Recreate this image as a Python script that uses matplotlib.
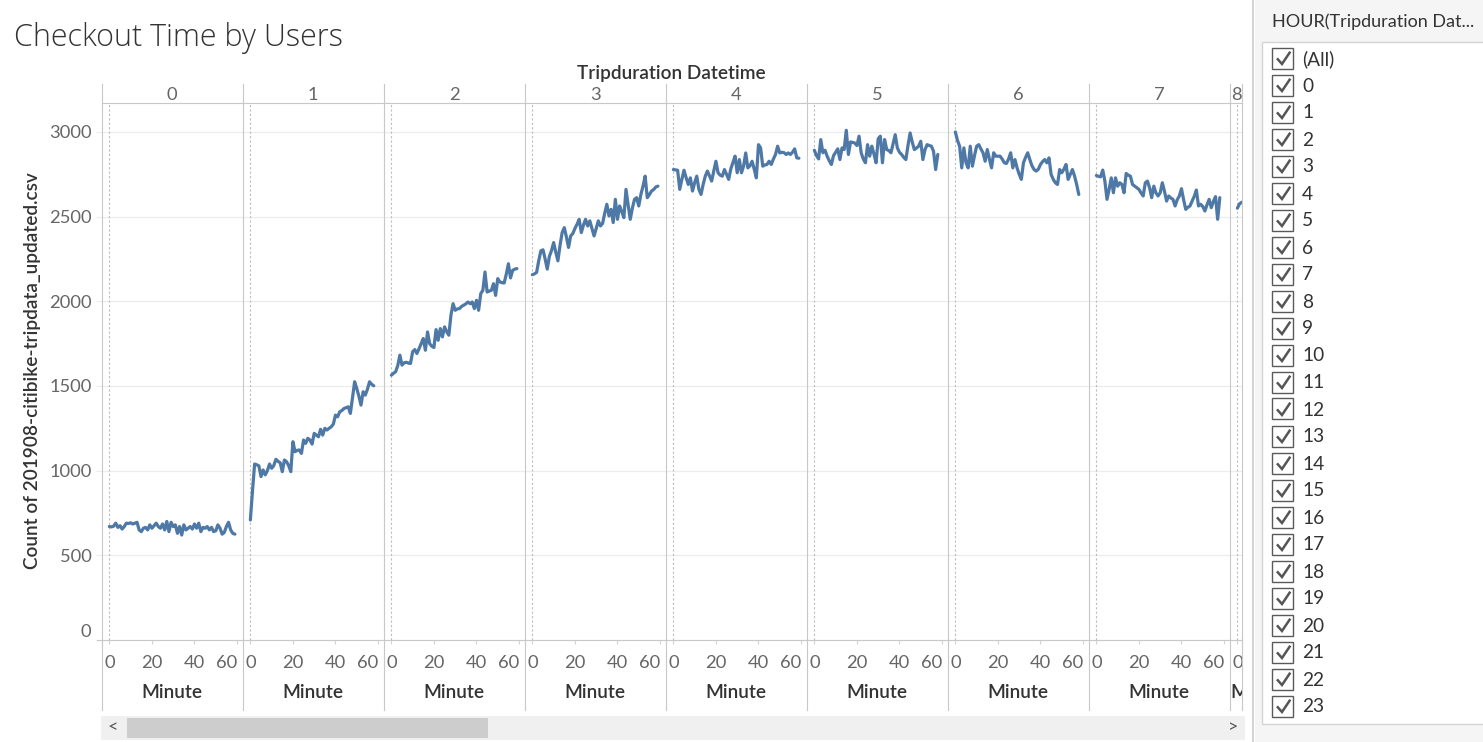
import numpy as np
import matplotlib
matplotlib.use("Agg")
from matplotlib import pyplot as plt
from matplotlib.patches import Rectangle
from matplotlib.lines import Line2D

plt.rcParams["font.family"] = ["Lato", "DejaVu Sans"]

# checkout counts per minute, one list per hour
hour_0 = [670, 668, 672, 690, 665, 675, 655, 670, 690, 688,
          692, 685, 690, 695, 650, 640, 660, 665, 650, 680,
          660, 675, 690, 670, 660, 685, 650, 700, 640, 695,
          670, 680, 630, 670, 620, 680, 650, 660, 670, 655,
          685, 660, 690, 640, 665, 660, 670, 650, 665, 640,
          645, 680, 660, 625, 635, 670, 695, 650, 630, 625]
hour_1 = [709, 880, 1039, 1035, 1028, 965, 1004, 975, 1000, 1039,
          1014, 1030, 1067, 1055, 1047, 994, 1063, 1053, 1030, 994,
          1171, 1112, 1120, 1122, 1102, 1181, 1161, 1191, 1181, 1157,
          1220, 1210, 1200, 1244, 1210, 1250, 1240, 1250, 1259, 1275,
          1328, 1318, 1348, 1355, 1367, 1372, 1377, 1338, 1430, 1525,
          1485, 1440, 1387, 1466, 1446, 1480, 1525, 1510, 1501]
hour_2 = [1564, 1575, 1584, 1620, 1682, 1623, 1637, 1640, 1635, 1633,
          1702, 1715, 1692, 1720, 1750, 1780, 1711, 1819, 1750, 1735,
          1727, 1833, 1770, 1839, 1790, 1849, 1820, 1800, 1918, 1986,
          1947, 1955, 1957, 1970, 1977, 1985, 1996, 1986, 1996, 1957,
          2006, 1947, 2045, 2065, 2173, 2055, 2060, 2065, 2104, 2035,
          2134, 2114, 2110, 2108, 2160, 2222, 2138, 2183, 2190, 2193]
hour_3 = [2157, 2162, 2171, 2240, 2298, 2304, 2250, 2190, 2265, 2300,
          2347, 2290, 2239, 2330, 2406, 2435, 2380, 2318, 2386, 2400,
          2430, 2455, 2484, 2406, 2450, 2484, 2445, 2475, 2430, 2386,
          2430, 2475, 2445, 2460, 2520, 2573, 2504, 2543, 2465, 2602,
          2484, 2563, 2530, 2494, 2661, 2570, 2484, 2550, 2602, 2612,
          2563, 2631, 2680, 2739, 2612, 2630, 2651, 2660, 2675, 2680]
hour_4 = [2778, 2776, 2774, 2661, 2720, 2774, 2730, 2690, 2729, 2651,
          2700, 2739, 2661, 2631, 2690, 2739, 2769, 2740, 2710, 2770,
          2827, 2759, 2745, 2739, 2778, 2750, 2720, 2782, 2820, 2857,
          2759, 2837, 2759, 2798, 2876, 2788, 2800, 2827, 2780, 2729,
          2925, 2906, 2798, 2805, 2808, 2827, 2808, 2840, 2867, 2916,
          2876, 2880, 2878, 2867, 2876, 2867, 2880, 2900, 2847, 2845]
hour_5 = [2892, 2860, 2841, 2955, 2877, 2892, 2857, 2830, 2808, 2860,
          2880, 2900, 2837, 2906, 2896, 3010, 2867, 2941, 2938, 2935,
          2920, 2975, 2877, 2840, 2818, 2925, 2857, 2916, 2870, 2818,
          2960, 2975, 2818, 2955, 2896, 2890, 2877, 2930, 2984, 2906,
          2880, 2867, 2850, 2837, 2920, 2994, 2940, 2896, 2905, 2916,
          2945, 2837, 2896, 2925, 2920, 2916, 2886, 2778, 2867]
hour_6 = [3000, 2950, 2916, 2788, 2906, 2818, 2788, 2916, 2798, 2860,
          2916, 2925, 2900, 2877, 2827, 2896, 2840, 2788, 2877, 2857,
          2857, 2857, 2840, 2818, 2814, 2840, 2877, 2788, 2837, 2788,
          2750, 2720, 2818, 2850, 2877, 2837, 2800, 2778, 2769, 2780,
          2808, 2825, 2837, 2818, 2847, 2749, 2720, 2700, 2690, 2778,
          2759, 2780, 2808, 2720, 2749, 2778, 2740, 2690, 2631]
hour_7 = [2743, 2738, 2735, 2775, 2710, 2602, 2661, 2729, 2641, 2729,
          2680, 2700, 2690, 2641, 2755, 2745, 2739, 2690, 2680, 2671,
          2661, 2640, 2622, 2700, 2710, 2671, 2612, 2680, 2640, 2622,
          2641, 2700, 2650, 2592, 2622, 2610, 2602, 2563, 2600, 2622,
          2665, 2600, 2543, 2555, 2563, 2592, 2620, 2657, 2563, 2573,
          2560, 2533, 2570, 2602, 2553, 2590, 2618, 2484, 2612]
hour_8 = [2550, 2575, 2585]

hour_labels = ["0", "1", "2", "3", "4", "5", "6", "7", "8"]
filter_items = ["(All)"] + [str(h) for h in range(24)]
minute_ticks = [0, 20, 40, 60]
count_ticks = [0, 500, 1000, 1500, 2000, 2500, 3000]

W, H = 1483, 742
LINE = "#4e79a7"
SEP = "#c8c8c8"
GRID = "#ececec"
TICK_TXT = "#666666"
DARK = "#333333"
FS = 13.2


def fx(px):
    return px / W


def fy(py):
    return 1 - py / H


def fig_line(fig, xs, ys, **kw):
    fig.add_artist(Line2D([fx(x) for x in xs], [fy(y) for y in ys], transform=fig.transFigure, **kw))


def fig_rect(fig, x0, y0, x1, y1, **kw):
    r = Rectangle((fx(x0), fy(y1)), (x1 - x0) / W, (y1 - y0) / H, transform=fig.transFigure, **kw)
    fig.add_artist(r)
    return r


fig = plt.figure(figsize=(W / 100, H / 100), dpi=100)

left0, pw, top, bottom = 101.7, 141.0, 103, 640
px_per_min = 2.128
series = [hour_0, hour_1, hour_2, hour_3, hour_4, hour_5, hour_6, hour_7, hour_8]

for i, vals in enumerate(series):
    x0 = left0 + i * pw
    width = pw if i < 8 else 12.0
    ax = fig.add_axes([fx(x0), fy(bottom), width / W, (bottom - top) / H])
    ax.plot(np.arange(len(vals)), vals, color=LINE, lw=2.3,
            solid_joinstyle="round", solid_capstyle="round")
    ax.set_xlim(-3.6, -3.6 + width / px_per_min)
    ax.set_ylim(0, 3171)
    ax.axvline(0, color="#bdbdbd", lw=0.8, ls=(0, (2, 2)), zorder=1)
    ax.set_yticks(count_ticks)
    ax.set_xticks(minute_ticks if i < 8 else [0])
    ax.grid(axis="y", color=GRID, lw=0.9)
    ax.set_axisbelow(True)
    for s in ax.spines.values():
        s.set_visible(False)
    ax.tick_params(axis="x", length=3, width=0.8, color="#d4d4d4", labelsize=FS,
                   labelcolor=TICK_TXT, pad=8)
    if i == 0:
        ax.tick_params(axis="y", length=4, width=0.8, color=GRID, labelsize=FS,
                       labelcolor=TICK_TXT, pad=3.4)
        ax.get_yticklabels()[0].set_va("bottom")
    else:
        ax.tick_params(axis="y", left=False, labelleft=False)
    if i < 8:
        ax.get_xticklabels()[3].set_ha("right")
        fig.text(fx(x0 + pw / 2), fy(692), "Minute", ha="center", va="center",
                 fontsize=FS + 0.5, fontweight="semibold", color=DARK)
        fig.text(fx(x0 + pw / 2), fy(95), hour_labels[i], ha="center", va="center",
                 fontsize=FS, color=TICK_TXT)
    else:
        fig.text(fx(1231), fy(95), hour_labels[i], ha="left", va="center",
                 fontsize=FS, color=TICK_TXT)
        t = fig.text(fx(1230), fy(692), "Minute", ha="left", va="center",
                     fontsize=FS + 0.5, fontweight="semibold", color=DARK)
        clip = Rectangle((fx(x0), 0), width / W, 1, transform=fig.transFigure)
        t.set_clip_path(clip)

# panel separators, header rule and x axis rule
for xs in [left0 + i * pw for i in range(9)] + [1241.7]:
    fig_line(fig, [xs, xs], [84, 710], color=SEP, lw=0.8)
fig_line(fig, [left0, 1241.7], [top, top], color=SEP, lw=0.8)
fig_line(fig, [97, 1241.7], [bottom, bottom], color=SEP, lw=0.8)

# titles
fig.text(fx(14), fy(46), "Checkout Time by Users", ha="left", va="baseline",
         fontsize=22, fontweight="light", color="#333333",
         family=["Open Sans", "Lato", "DejaVu Sans"])
fig.text(fx(671), fy(73), "Tripduration Datetime", ha="center", va="center",
         fontsize=FS + 0.5, fontweight="semibold", color=DARK)
fig.text(fx(33), fy(371), "Count of 201908-citibike-tripdata_updated.csv", ha="center", va="center",
         rotation=90, fontsize=FS + 0.5, fontweight="semibold", color=DARK)

# horizontal scrollbar
fig_rect(fig, 101, 716, 1245, 740, facecolor="#f0f0f0", edgecolor="none")
fig_rect(fig, 127, 718, 488, 738, facecolor="#cdcdcd", edgecolor="none")
fig.text(fx(113), fy(727), "<", ha="center", va="center", fontsize=13, color="#555555")
fig.text(fx(1233), fy(727), ">", ha="center", va="center", fontsize=13, color="#555555")

# filter card on the right
fig_rect(fig, 1255, 0, 1483, 742, facecolor="#f5f5f5", edgecolor="none")
fig_line(fig, [1253, 1253], [0, 742], color="#d4d4d4", lw=1.5)
fig_rect(fig, 1262, 42, 1490, 724, facecolor="white", edgecolor="#d4d4d4", lw=1)
fig.text(fx(1272), fy(22), "HOUR(Tripduration Dat...", ha="left", va="center",
         fontsize=13, color=DARK)

for k, name in enumerate(filter_items):
    cy = 58 + 27 * k
    cx = 1282.8
    fig_rect(fig, cx - 10.5, cy - 10.5, cx + 10.5, cy + 10.5, facecolor="white",
             edgecolor="#5a5a5a", lw=1)
    fig_line(fig, [cx - 5, cx - 0.8, cx + 6.8], [cy + 1.3, cy + 6, cy - 5.3],
             color="#555555", lw=1.8, solid_joinstyle="miter")
    fig.text(fx(1302), fy(cy + 1), name, ha="left", va="center", fontsize=13.8, color=DARK)

fig.savefig("out.png", dpi=100)
